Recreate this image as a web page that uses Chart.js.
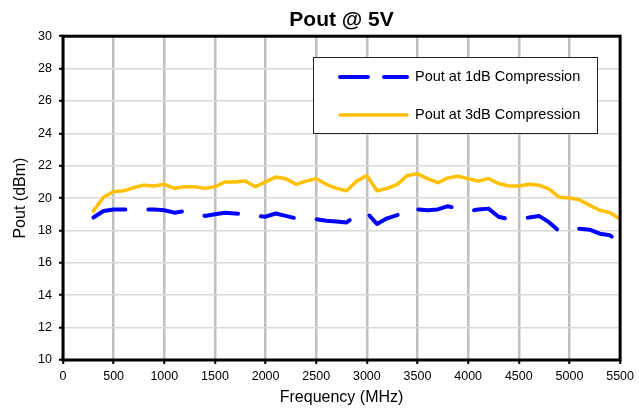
<!DOCTYPE html>
<html>
<head>
<meta charset="utf-8">
<script src="https://cdn.jsdelivr.net/npm/chart.js@4.4.1/dist/chart.umd.min.js"></script>
<style>
  body { margin: 0; background: #fff; }
  canvas { display: block; }
</style>
</head>
<body>
<canvas id="myChart" width="639" height="411"></canvas>
<script>
var freqs = [300, 400, 500, 600, 700, 800, 900, 1000, 1100, 1200, 1300, 1400, 1500, 1600, 1700, 1800, 1900, 2000,
  2100, 2200, 2300, 2400, 2500, 2600, 2700, 2800, 2900, 3000, 3100, 3200, 3300, 3400, 3500, 3600, 3700, 3800,
  3900, 4000, 4100, 4200, 4300, 4400, 4500, 4600, 4700, 4800, 4900, 5000, 5100, 5200, 5300, 5400, 5500];

var pout1dB = [18.8, 19.2, 19.3, 19.3, 19.3, 19.3, 19.3, 19.25, 19.1, 19.2, 19.05, 18.9, 19.0, 19.1, 19.05, 19.0, 18.9, 18.85,
  19.05, 18.9, 18.75, 18.8, 18.7, 18.6, 18.55, 18.5, 18.95, 19.1, 18.4, 18.75, 18.95, 19.4, 19.3, 19.25, 19.3, 19.5,
  19.35, 19.2, 19.3, 19.35, 18.85, 18.7, 18.75, 18.8, 18.9, 18.5, 17.95, 18.1, 18.1, 18.05, 17.8, 17.7, 17.25];

var pout3dB = [19.2, 20.05, 20.4, 20.45, 20.65, 20.8, 20.75, 20.85, 20.6, 20.7, 20.7, 20.6, 20.7, 21.0, 21.0, 21.05, 20.7, 21.0,
  21.3, 21.2, 20.85, 21.05, 21.2, 20.85, 20.6, 20.45, 21.05, 21.4, 20.45, 20.6, 20.85, 21.4, 21.5, 21.2, 20.95, 21.25,
  21.35, 21.2, 21.05, 21.2, 20.9, 20.75, 20.75, 20.85, 20.8, 20.55, 20.05, 20.0, 19.9, 19.55, 19.25, 19.1, 18.7];

var seriesNames = ["Pout at 1dB Compression", "Pout at 3dB Compression"];

var FONT = "Arial, 'Liberation Sans', sans-serif";

function toPoints(ys) {
  return freqs.map((f, i) => ({ x: f, y: ys[i] }));
}

// plot frame + legend box inside the plot
var framePlugin = {
  id: "frame",
  afterDraw(chart) {
    var ctx = chart.ctx;
    var a = chart.chartArea;
    ctx.save();
    ctx.strokeStyle = "#000";
    ctx.lineWidth = 3;
    ctx.strokeRect(a.left, a.top, a.right - a.left, a.bottom - a.top);

    // legend
    var lx = 313, ly = 57, lw = 284, lh = 76;
    ctx.fillStyle = "#fff";
    ctx.fillRect(lx, ly, lw, lh);
    ctx.strokeStyle = "#222";
    ctx.lineWidth = 1;
    ctx.strokeRect(lx + 0.5, ly + 0.5, lw, lh);

    var rows = [77, 115];
    chart.data.datasets.forEach((ds, i) => {
      var y = rows[i];
      ctx.beginPath();
      ctx.strokeStyle = ds.borderColor;
      ctx.lineWidth = ds.borderWidth;
      ctx.lineCap = "round";
      ctx.setLineDash(ds.borderDash ? [28, 16] : []);
      ctx.moveTo(340, y);
      ctx.lineTo(407, y);
      ctx.stroke();
      ctx.setLineDash([]);
      ctx.fillStyle = "#000";
      ctx.font = "14.5px " + FONT;
      ctx.textBaseline = "middle";
      ctx.textAlign = "left";
      ctx.fillText(ds.label, 415, y);
    });
    ctx.restore();
  },
};

var ctx = document.getElementById("myChart").getContext("2d");
var myChart = new Chart(ctx, {
  type: "line",
  data: {
    datasets: [
      {
        label: seriesNames[0],
        data: toPoints(pout1dB),
        borderColor: "#0000FF",
        borderWidth: 4,
        borderDash: [34, 23],
        borderCapStyle: "round",
        borderJoinStyle: "round",
        pointRadius: 0,
        tension: 0,
        fill: false,
      },
      {
        label: seriesNames[1],
        data: toPoints(pout3dB),
        borderColor: "#FFC000",
        borderWidth: 3.5,
        borderCapStyle: "round",
        borderJoinStyle: "round",
        pointRadius: 0,
        tension: 0,
        fill: false,
      },
    ],
  },
  options: {
    responsive: false,
    animation: false,
    layout: { padding: { left: 0, right: 16, top: 0, bottom: 0 } },
    plugins: {
      legend: { display: false },
      tooltip: { enabled: false },
      title: {
        display: true,
        text: "Pout @ 5V",
        fullSize: false,
        color: "#000",
        font: { family: FONT, size: 21, weight: "bold" },
        padding: { top: 8, bottom: 3 },
      },
    },
    scales: {
      x: {
        type: "linear",
        min: 0,
        max: 5500,
        afterFit(scale) {
          scale.height = 51;
        },
        ticks: {
          stepSize: 500,
          color: "#000",
          padding: 5,
          maxRotation: 0,
          font: { family: FONT, size: 12.5 },
          callback: (v) => String(v),
        },
        grid: {
          color: "#c0c0c0",
          lineWidth: 2.5,
          tickColor: "#000",
          tickLength: 4,
          tickWidth: 2,
        },
        border: { display: false },
        title: {
          display: true,
          text: "Frequency (MHz)",
          color: "#000",
          font: { family: FONT, size: 16 },
          padding: { top: 0, bottom: 4 },
        },
      },
      y: {
        min: 10,
        max: 30,
        afterFit(scale) {
          scale.width = 63;
        },
        ticks: {
          stepSize: 2,
          color: "#000",
          padding: 7,
          font: { family: FONT, size: 12.5 },
          callback: (v) => String(v),
        },
        grid: {
          color: "#d9d9d9",
          lineWidth: 1.5,
          tickColor: "#000",
          tickLength: 4,
          tickWidth: 2,
        },
        border: { display: false },
        title: {
          display: true,
          text: "Pout (dBm)",
          color: "#000",
          font: { family: FONT, size: 16 },
          padding: { top: 11, bottom: 0 },
        },
      },
    },
  },
  plugins: [framePlugin],
});
</script>
</body>
</html>
